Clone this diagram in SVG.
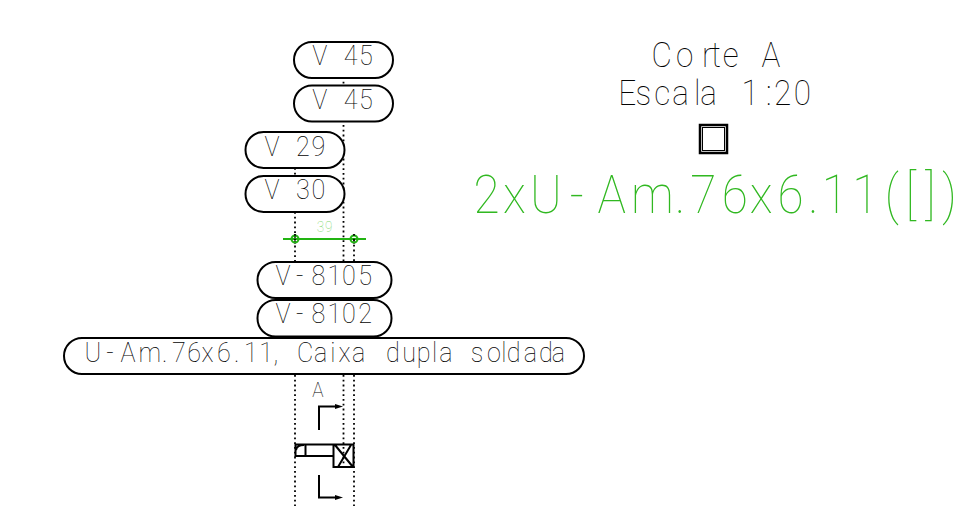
<svg xmlns="http://www.w3.org/2000/svg" width="967" height="508" viewBox="0 0 967 508">
<style>
.pill{fill:#fff;stroke:#000;stroke-width:2}
.dot{fill:none;stroke:#000;stroke-width:1.8;stroke-dasharray:1.8 3}
.t{font-family:Roboto,"Liberation Sans",sans-serif;font-weight:100;font-size:28px;fill:#000;opacity:.99}
.big{font-size:35px}
.g{font-size:53px;fill:#2fb81f}
.s{fill:none;stroke:#000;stroke-width:2}
</style>
<defs><marker id="arr" markerUnits="userSpaceOnUse" markerWidth="9" markerHeight="7" refX="1" refY="3.500" orient="auto"><path d="M0,1L8,3.500L0,6Z" fill="#000"/></marker></defs>
<rect width="967" height="508" fill="#fff"/>
<g id="connectors">
<path class="dot" d="M343.500,77V262M343.500,298V300M295,168V176M295,212V262M295,298V300M354,240V262M354,298V300M295,375V506M343.500,375V470M354,375V506"/>
</g>
<g id="green-dim">
<path d="M283,239H366" stroke="#22b412" stroke-width="2" fill="none"/>
<circle cx="295" cy="239" r="3.500" fill="none" stroke="#22b412" stroke-width="2"/>
<circle cx="354" cy="239" r="3.500" fill="none" stroke="#22b412" stroke-width="2"/>
<path class="dot" d="M295,234V244M354,234V244"/>
<text class="t" transform="scale(.9 1)" style="font-size:15px;fill:#7fd870" x="352 361" y="232">39</text>
</g>
<g id="n1"><rect class="pill" x="294" y="42" width="99" height="36" rx="18"/><text class="t" transform="scale(.9 1)" x="347 367 382 399" y="65">V 45</text></g>
<g id="n2"><rect class="pill" x="294" y="85.500" width="99" height="36" rx="18"/><text class="t" transform="scale(.9 1)" x="347 367 382 399" y="109">V 45</text></g>
<g id="n3"><rect class="pill" x="245.500" y="132" width="99" height="36" rx="18"/><text class="t" transform="scale(.9 1)" x="294 311 329 346" y="156">V 29</text></g>
<g id="n4"><rect class="pill" x="245.500" y="176" width="99" height="36" rx="18"/><text class="t" transform="scale(.9 1)" x="294 311 329 346" y="199">V 30</text></g>
<g id="n5"><rect class="pill" x="257.500" y="262" width="134" height="36" rx="18"/><text class="t" transform="scale(.9 1)" x="306 329 346 364 380 398" y="285">V-8105</text></g>
<g id="n6"><rect class="pill" x="257.500" y="300" width="134" height="36.500" rx="18"/><text class="t" transform="scale(.9 1)" x="306 329 346 364 380 398" y="323">V-8102</text></g>
<g id="n7"><rect class="pill" x="64" y="338" width="520" height="36" rx="18"/><text class="t" transform="scale(.9 1)" x="94 118 134 154 180 191 208 224 241 260 271 288 304 317 330 349 367 376 391 411 429 447 463 480 488 506 523 541 557 563 582 599 613" y="362">U-Am.76x6.11, Caixa dupla soldada</text></g>
<g id="section">
<text class="t" transform="scale(.9 1)" style="font-size:21px" x="347" y="397">A</text>
<path class="s" d="M319,430V406.500H336" marker-end="url(#arr)"/>
<path class="s" d="M319,475V497.500H336" marker-end="url(#arr)"/>
<path class="s" d="M333.500,456H295.500V444.500H353.500V467H333.500V444.500M305.500,444.500V456M296,450Q297,445 304,445M335,445L353,467M351,445L338,467"/>
</g>
<g id="title">
<text class="t big" transform="scale(.9 1)" x="724 751 780 790 803 828 846" y="67">Corte A</text>
<text class="t big" transform="scale(.9 1)" x="687 706 727 747 771 778 806 824 851 860 882" y="105">Escala 1:20</text>
<rect x="700" y="125" width="27" height="28" fill="#fff" stroke="#000" stroke-width="2.500"/>
<rect x="702.500" y="127.500" width="22" height="23" fill="none" stroke="#000"/>
<text class="t g" transform="scale(.9 1)" x="526 559 589 633 664 701 750 767 802 833 864 898 913 947 983 1006 1028 1047" y="213">2xU-Am.76x6.11([])</text>
</g>
</svg>
